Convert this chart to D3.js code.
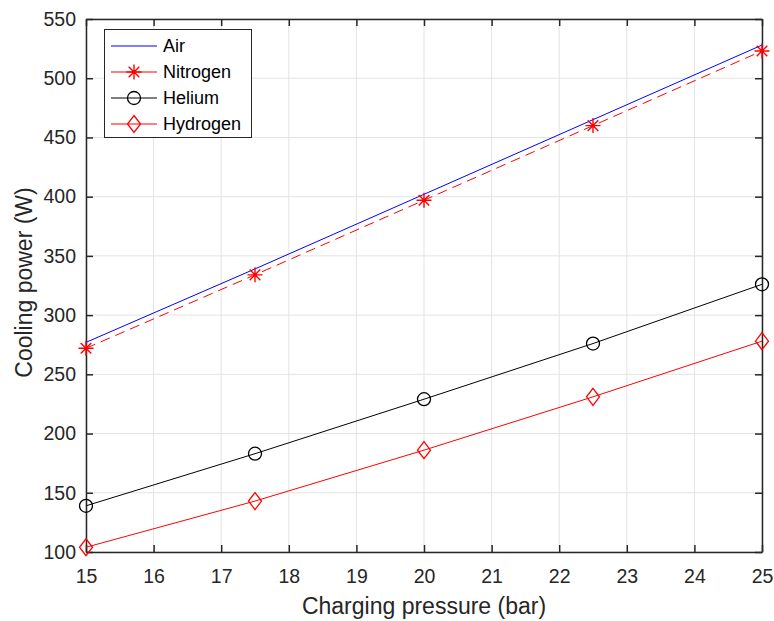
<!DOCTYPE html>
<html>
<head>
<meta charset="utf-8">
<script src="https://cdn.jsdelivr.net/npm/d3@7"></script>
<style>
  body { margin: 0; background: #fff; }
  svg { font-family: "Liberation Sans", Arial, sans-serif; }
</style>
</head>
<body>
<svg id="chart" width="774" height="621"></svg>
<script>
// Charging pressure (bar) at which each gas was evaluated
const pressures = [15, 17.5, 20, 22.5, 25];
// Cooling power (W) for each working gas
const airPower      = [277, 339, 402, 465, 528];
const nitrogenPower = [272, 334, 397, 460, 523];
const heliumPower   = [139, 183, 229, 276, 326];
const hydrogenPower = [104, 143, 186, 231, 278];

const xTicks = [15, 16, 17, 18, 19, 20, 21, 22, 23, 24, 25];
const yTicks = [100, 150, 200, 250, 300, 350, 400, 450, 500, 550];

const seriesList = [
  { name: "Air",      values: airPower,      color: "#0000ff", dash: null,   marker: "none" },
  { name: "Nitrogen", values: nitrogenPower, color: "#ff0000", dash: "10,6", marker: "star" },
  { name: "Helium",   values: heliumPower,   color: "#000000", dash: null,   marker: "circle" },
  { name: "Hydrogen", values: hydrogenPower, color: "#ff0000", dash: null,   marker: "diamond" }
];

const svg = d3.select("#chart");
const margin = { left: 86, right: 12, top: 19, bottom: 69 };
const W = 774, H = 621;
const x = d3.scaleLinear().domain([15, 25]).range([margin.left, W - margin.right]);
const y = d3.scaleLinear().domain([100, 550]).range([H - margin.bottom, margin.top]);

const axisColor = "#262626";

// grid
const grid = svg.append("g");
grid.selectAll("line.vx").data(xTicks).join("line")
  .attr("x1", d => x(d)).attr("x2", d => x(d))
  .attr("y1", y(100)).attr("y2", y(550))
  .attr("stroke", "#e3e3e3").attr("stroke-width", 1);
grid.selectAll("line.hy").data(yTicks).join("line")
  .attr("y1", d => y(d)).attr("y2", d => y(d))
  .attr("x1", x(15)).attr("x2", x(25))
  .attr("stroke", "#e3e3e3").attr("stroke-width", 1);

// axes (inward ticks on all four sides)
const tickLen = 7;
function styleAxis(g) {
  g.selectAll("path.domain").attr("stroke", axisColor).attr("stroke-width", 1.5);
  g.selectAll(".tick line").attr("stroke", axisColor).attr("stroke-width", 1.5);
  g.selectAll(".tick text").attr("fill", axisColor).style("font-size", "19.5px")
    .style("font-family", "'Liberation Sans', Arial, sans-serif");
}
svg.append("g").attr("transform", `translate(0,${y(100)})`)
  .call(d3.axisBottom(x).tickValues(xTicks).tickFormat(d3.format("d"))
    .tickSizeInner(-tickLen).tickSizeOuter(0).tickPadding(17))
  .call(styleAxis);
svg.append("g").attr("transform", `translate(0,${y(550)})`)
  .call(d3.axisTop(x).tickValues(xTicks).tickFormat("")
    .tickSizeInner(-tickLen).tickSizeOuter(0))
  .call(styleAxis);
svg.append("g").attr("transform", `translate(${x(15)},0)`)
  .call(d3.axisLeft(y).tickValues(yTicks).tickFormat(d3.format("d"))
    .tickSizeInner(-tickLen).tickSizeOuter(0).tickPadding(10))
  .call(styleAxis);
svg.append("g").attr("transform", `translate(${x(25)},0)`)
  .call(d3.axisRight(y).tickValues(yTicks).tickFormat("")
    .tickSizeInner(-tickLen).tickSizeOuter(0))
  .call(styleAxis);

// axis titles
svg.append("text")
  .attr("x", (x(15) + x(25)) / 2).attr("y", 614)
  .attr("text-anchor", "middle").attr("fill", axisColor)
  .style("font-size", "23px").text("Charging pressure (bar)");
svg.append("text")
  .attr("transform", `translate(32,${(y(100) + y(550)) / 2 - 3}) rotate(-90)`)
  .attr("text-anchor", "middle").attr("fill", axisColor)
  .style("font-size", "23px").text("Cooling power (W)");

// marker drawing
function drawMarker(g, type, cx, cy, color) {
  if (type === "circle") {
    g.append("circle").attr("cx", cx).attr("cy", cy).attr("r", 6.5)
      .attr("fill", "none").attr("stroke", color).attr("stroke-width", 1.3);
  } else if (type === "diamond") {
    g.append("path")
      .attr("d", `M${cx},${cy - 8.5}L${cx + 6.5},${cy}L${cx},${cy + 8.5}L${cx - 6.5},${cy}Z`)
      .attr("fill", "none").attr("stroke", color).attr("stroke-width", 1.3);
  } else if (type === "star") {
    const r = 7.5;
    const d = r * Math.SQRT1_2;
    g.append("path")
      .attr("d", `M${cx - r},${cy}L${cx + r},${cy}M${cx},${cy - r}L${cx},${cy + r}` +
                 `M${cx - d},${cy - d}L${cx + d},${cy + d}M${cx - d},${cy + d}L${cx + d},${cy - d}`)
      .attr("fill", "none").attr("stroke", color).attr("stroke-width", 1.4);
  }
}

// series
const line = d3.line().x(d => x(d[0])).y(d => y(d[1]));
seriesList.forEach(s => {
  const pts = pressures.map((p, i) => [p, s.values[i]]);
  const g = svg.append("g");
  g.append("path").datum(pts).attr("d", line)
    .attr("fill", "none").attr("stroke", s.color).attr("stroke-width", 1)
    .attr("stroke-dasharray", s.dash);
  pts.forEach(p => drawMarker(g, s.marker, x(p[0]), y(p[1]), s.color));
});

// legend
const lg = svg.append("g");
lg.append("rect").attr("x", 104.5).attr("y", 29.5).attr("width", 147).attr("height", 108)
  .attr("fill", "#fff").attr("stroke", axisColor).attr("stroke-width", 1);
seriesList.forEach((s, i) => {
  const cy = 46 + i * 26;
  lg.append("line").attr("x1", 111).attr("x2", 157).attr("y1", cy).attr("y2", cy)
    .attr("stroke", s.color).attr("stroke-width", 1);
  drawMarker(lg, s.marker, 134, cy, s.color);
  lg.append("text").attr("x", 163).attr("y", cy).attr("dy", "0.36em")
    .attr("fill", "#000").style("font-size", "18px").text(s.name);
});
</script>
</body>
</html>
